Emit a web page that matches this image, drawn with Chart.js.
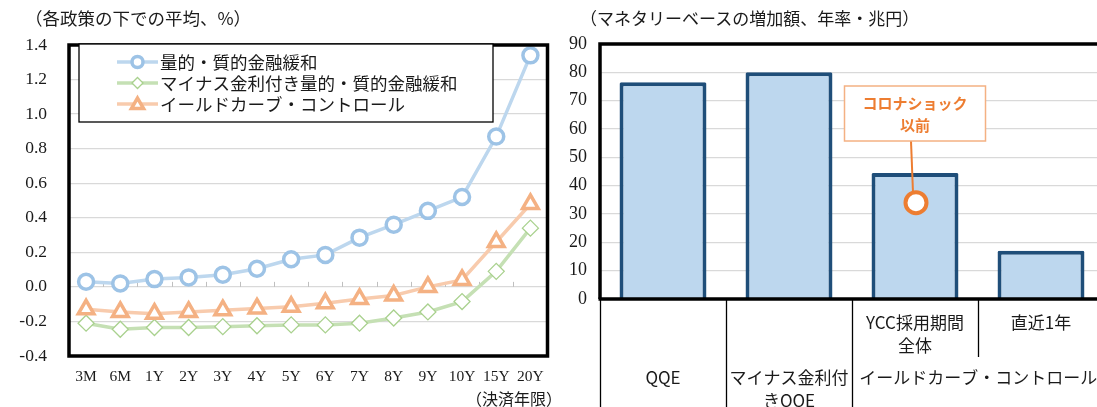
<!DOCTYPE html>
<html><head><meta charset="utf-8">
<script src="https://cdn.jsdelivr.net/npm/chart.js@4/dist/chart.umd.min.js"></script>
<style>
html,body{margin:0;padding:0;background:#fff;overflow:hidden;}
#wrap{position:relative;width:1097px;height:407px;overflow:hidden;background:#fff;}
.t{position:absolute;font-family:"Noto Sans CJK JP",sans-serif;color:#1a1a1a;white-space:nowrap;line-height:20px;}
#c1{position:absolute;left:0;top:0;}
#c2{position:absolute;left:560px;top:0;}
</style></head><body>
<div id="wrap">
<canvas id="c1" width="560" height="407"></canvas>
<canvas id="c2" width="560" height="407"></canvas>
<div class="t" style="left:25px;top:8px;font-size:17.5px;">（各政策の下での平均、%）</div>
<div class="t" style="left:580px;top:8px;font-size:17px;">（マネタリーベースの増加額、年率・兆円）</div>
<div class="t" style="left:466px;top:388px;font-size:16px;">（決済年限）</div>
</div>
<script>
// ---- Left chart data ----
const categories = ['3M','6M','1Y','2Y','3Y','4Y','5Y','6Y','7Y','8Y','9Y','10Y','15Y','20Y'];
const seriesNames = ['量的・質的金融緩和','マイナス金利付き量的・質的金融緩和','イールドカーブ・コントロール'];
const qqeValues  = [0.03, 0.02, 0.045, 0.055, 0.07, 0.105, 0.16, 0.185, 0.285, 0.36, 0.44, 0.52, 0.87, 1.34];
const nirpValues = [-0.21, -0.245, -0.235, -0.235, -0.23, -0.225, -0.22, -0.22, -0.21, -0.18, -0.145, -0.085, 0.09, 0.34];
const yccValues  = [-0.13, -0.145, -0.155, -0.145, -0.135, -0.125, -0.115, -0.095, -0.07, -0.05, 0.0, 0.04, 0.26, 0.48];
const leftYTicks = ['-0.4','-0.2','0.0','0.2','0.4','0.6','0.8','1.0','1.2','1.4'];

// ---- Right chart data ----
const barCategories = ['QQE','マイナス金利付きQQE','YCC採用期間全体','直近1年'];
const barValues = [76.5, 80, 44.5, 17];
const barLabelLines = [['QQE'], ['マイナス金利付','きQQE'], ['YCC採用期間','全体'], ['直近1年']];
const groupLabel = 'イールドカーブ・コントロール';
const rightYTicks = ['0','10','20','30','40','50','60','70','80','90'];
const calloutLines = ['コロナショック','以前'];
const calloutValue = [34];

const CJK = '"Noto Sans CJK JP", sans-serif';
const NUM = '"Liberation Serif", "Noto Sans CJK JP", serif';
const TXT = '#1a1a1a';

// ---------------- Left chart ----------------
const leftPlugin = {
  id: 'leftDeco',
  beforeDatasetsDraw(chart) {
    const {ctx, scales:{x, y}} = chart;
    const y0 = y.getPixelForValue(0);
    const half = (x.getPixelForValue(1) - x.getPixelForValue(0)) / 2;
    ctx.save();
    ctx.strokeStyle = '#bfbfbf'; ctx.lineWidth = 1;
    for (let i = 0; i <= categories.length; i++) {
      const px = Math.round(x.getPixelForValue(i) - half) + 0.5;
      ctx.beginPath(); ctx.moveTo(px, y0 - 5); ctx.lineTo(px, y0); ctx.stroke();
    }
    ctx.restore();
  },
  afterDraw(chart) {
    const {ctx, chartArea:a} = chart;
    ctx.save();
    ctx.strokeStyle = '#000'; ctx.lineWidth = 3.5;
    ctx.strokeRect(a.left, a.top, a.right - a.left, a.bottom - a.top);
    // legend
    const lg = {x1:79, y1:44, x2:493, y2:122, rows:[62,83,104], lx1:117, lx2:158, tx:160};
    ctx.fillStyle = '#fff';
    ctx.fillRect(lg.x1, lg.y1, lg.x2 - lg.x1, lg.y2 - lg.y1);
    ctx.strokeStyle = '#000'; ctx.lineWidth = 1.3;
    ctx.strokeRect(lg.x1, lg.y1, lg.x2 - lg.x1, lg.y2 - lg.y1);
    const legendRadius = [5.5, 5.5, 7];
    chart.data.datasets.forEach((ds, i) => {
      const yy = lg.rows[i];
      ctx.strokeStyle = ds.borderColor; ctx.lineWidth = ds.borderWidth;
      ctx.beginPath(); ctx.moveTo(lg.lx1, yy); ctx.lineTo(lg.lx2, yy); ctx.stroke();
      ctx.fillStyle = '#fff'; ctx.strokeStyle = ds.pointBorderColor; ctx.lineWidth = ds.pointBorderWidth;
      Chart.helpers.drawPoint(ctx, {pointStyle: ds.pointStyle, radius: legendRadius[i], borderWidth: ds.pointBorderWidth, rotation: 0}, (lg.lx1 + lg.lx2) / 2, yy + (ds.pointStyle === 'triangle' ? 1 : 0));
      ctx.fillStyle = TXT; ctx.font = '17.5px ' + CJK; ctx.textBaseline = 'middle'; ctx.textAlign = 'left';
      ctx.fillText(ds.label, lg.tx, yy);
    });
    ctx.restore();
  }
};

new Chart(document.getElementById('c1'), {
  type: 'line',
  data: {
    labels: categories,
    datasets: [
      {label: seriesNames[0], data: qqeValues, borderColor: '#bdd7ee', borderWidth: 3.5,
       pointStyle: 'circle', pointRadius: 7.5, pointBorderWidth: 3.5, pointBorderColor: '#9dc3e6', pointBackgroundColor: '#fff', order: 3, tension: 0},
      {label: seriesNames[1], data: nirpValues, borderColor: '#c5e0b4', borderWidth: 3.5,
       pointStyle: 'rectRot', pointRadius: 8, pointBorderWidth: 1.3, pointBorderColor: '#a9d18e', pointBackgroundColor: '#fff', order: 2, tension: 0},
      {label: seriesNames[2], data: yccValues, borderColor: '#f8cbad', borderWidth: 3.5,
       pointStyle: 'triangle', pointRadius: 9, pointBorderWidth: 3.5, pointBorderColor: '#f4b183', pointBackgroundColor: '#fff', order: 1, tension: 0}
    ]
  },
  options: {
    responsive: false, animation: false, devicePixelRatio: 1,
    layout: {padding: {top: 45, right: 5, left: 0, bottom: 0}},
    plugins: {legend: {display: false}, tooltip: {enabled: false}},
    scales: {
      x: {
        offset: true,
        grid: {display: false, drawTicks: false},
        border: {display: false},
        ticks: {font: {family: NUM, size: 15.5}, color: TXT, padding: 12, maxRotation: 0, autoSkip: false},
        afterFit: s => { s.height = 51; }
      },
      y: {
        min: -0.4, max: 1.4,
        grid: {color: '#d9d9d9', lineWidth: 1.3, drawTicks: false},
        border: {display: false},
        ticks: {stepSize: 0.2, font: {family: NUM, size: 17.5}, color: TXT, padding: 22,
                callback: (v) => leftYTicks[Math.round((v + 0.4) / 0.2)]},
        afterFit: s => { s.width = 69; }
      }
    }
  },
  plugins: [leftPlugin]
});

// ---------------- Right chart ----------------
const rightPlugin = {
  id: 'rightDeco',
  afterDraw(chart) {
    const {ctx, chartArea:a, scales:{x, y}} = chart;
    const H = chart.height;
    const half = (x.getPixelForValue(1) - x.getPixelForValue(0)) / 2;
    const y0 = y.getPixelForValue(0);
    ctx.save();
    // frame
    ctx.strokeStyle = '#000'; ctx.lineWidth = 3.5;
    ctx.beginPath();
    ctx.moveTo(a.left, y0); ctx.lineTo(a.left, a.top); ctx.lineTo(a.right, a.top);
    ctx.stroke();
    ctx.beginPath(); ctx.moveTo(a.left - 1.5, y0); ctx.lineTo(a.right, y0); ctx.stroke();
    // table lines
    ctx.lineWidth = 1.3;
    const bnd = i => Math.round(x.getPixelForValue(i) - half) + 0.5;
    [0, 1, 2].forEach(i => { ctx.beginPath(); ctx.moveTo(bnd(i), y0); ctx.lineTo(bnd(i), H); ctx.stroke(); });
    ctx.beginPath(); ctx.moveTo(bnd(3), y0); ctx.lineTo(bnd(3), y0 + 58); ctx.stroke();
    // table text
    ctx.fillStyle = TXT; ctx.font = '17px ' + CJK; ctx.textAlign = 'center'; ctx.textBaseline = 'middle';
    const rowTop = [378, 401], rowUpper = [323, 346];
    barLabelLines.forEach((lines, i) => {
      const rows = i < 2 ? rowTop : rowUpper;
      lines.forEach((t, k) => ctx.fillText(t, x.getPixelForValue(i), rows[k]));
    });
    ctx.fillText(groupLabel, (bnd(2) + x.getPixelForValue(3) + half) / 2, 378);
    // callout
    const cx = x.getPixelForValue(2), cy = y.getPixelForValue(calloutValue[0]);
    const bw = 141, bt = 86, bh = 55;
    ctx.strokeStyle = '#ed7d31'; ctx.lineWidth = 2;
    ctx.beginPath(); ctx.moveTo(cx - 4, bt + bh); ctx.lineTo(cx - 2, cy - 10); ctx.stroke();
    ctx.lineWidth = 4; ctx.fillStyle = '#fff';
    ctx.beginPath(); ctx.arc(cx + 1, cy, 10.5, 0, Math.PI * 2); ctx.fill(); ctx.stroke();
    ctx.fillStyle = '#fff'; ctx.fillRect(cx - bw / 2, bt, bw, bh);
    ctx.strokeStyle = '#f4b183'; ctx.lineWidth = 1.5; ctx.strokeRect(cx - bw / 2, bt, bw, bh);
    ctx.fillStyle = '#ed7d31'; ctx.font = 'bold 15px ' + CJK;
    ctx.fillText(calloutLines[0], cx, bt + 17);
    ctx.fillText(calloutLines[1], cx, bt + 39);
    ctx.restore();
  }
};

new Chart(document.getElementById('c2'), {
  type: 'bar',
  data: {
    labels: barCategories,
    datasets: [{data: barValues, backgroundColor: '#bdd7ee', borderColor: '#1f4e79', borderWidth: 4,
                barPercentage: 0.69, categoryPercentage: 1, borderRadius: 1.5}]
  },
  options: {
    responsive: false, animation: false, devicePixelRatio: 1,
    layout: {padding: {top: 44, right: 16, left: 0, bottom: 0}},
    plugins: {legend: {display: false}, tooltip: {enabled: false}},
    scales: {
      x: {
        grid: {display: false, drawTicks: false}, border: {display: false},
        ticks: {display: false},
        afterFit: s => { s.height = 108; }
      },
      y: {
        min: 0, max: 90,
        grid: {color: '#d9d9d9', lineWidth: 1.3, drawTicks: false}, border: {display: false},
        ticks: {stepSize: 10, font: {family: NUM, size: 18}, color: TXT, padding: 13,
                callback: (v) => rightYTicks[Math.round(v / 10)]},
        afterFit: s => { s.width = 40; }
      }
    }
  },
  plugins: [rightPlugin]
});
</script>
</body></html>
